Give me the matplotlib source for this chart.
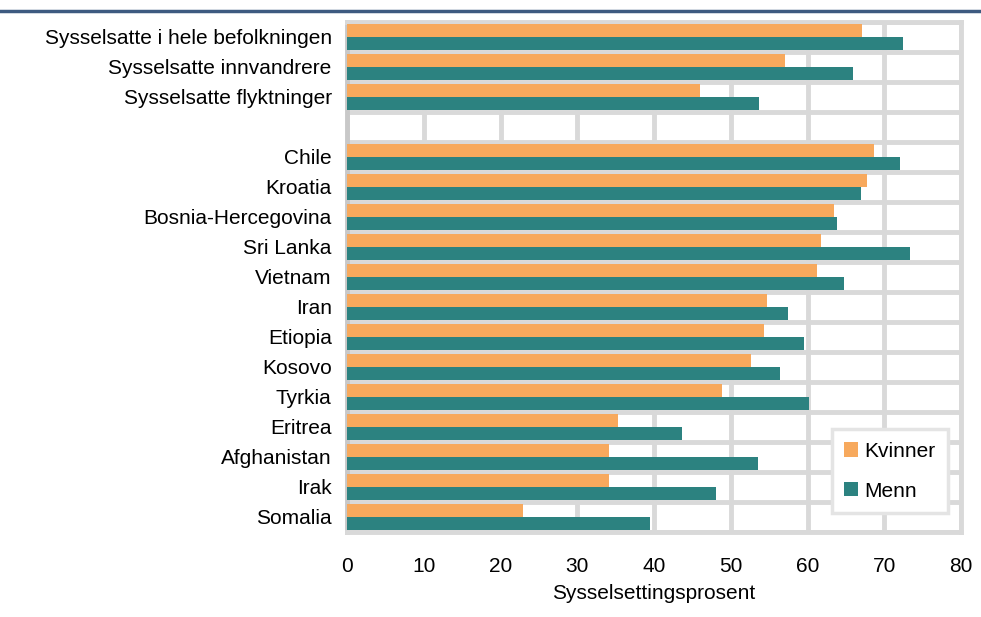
import matplotlib.pyplot as plt
import numpy as np

plt.rcParams['font.family'] = ['Liberation Sans', 'DejaVu Sans']

# data
categories = ['Sysselsatte i hele befolkningen', 'Sysselsatte innvandrere',
              'Sysselsatte flyktninger', '',
              'Chile', 'Kroatia', 'Bosnia-Hercegovina', 'Sri Lanka', 'Vietnam',
              'Iran', 'Etiopia', 'Kosovo', 'Tyrkia', 'Eritrea', 'Afghanistan',
              'Irak', 'Somalia']
kvinner = [67.1, 57.1, 46.0, np.nan,
           68.7, 67.8, 63.4, 61.7, 61.2, 54.7, 54.3, 52.6, 48.8, 35.3, 34.1, 34.1, 22.9]
menn = [72.5, 65.9, 53.7, np.nan,
        72.1, 67.0, 63.9, 73.3, 64.7, 57.4, 59.6, 56.4, 60.2, 43.6, 53.5, 48.1, 39.5]
xticks = [0, 10, 20, 30, 40, 50, 60, 70, 80]

orange = '#f7a95d'
teal = '#2c8280'
grid_col = '#d9d9d9'
fs = 15

fig = plt.figure(figsize=(9.81, 6.17), dpi=100)
ax = fig.add_axes([347 / 981, 1 - 532 / 617, (961 - 347) / 981, (532 - 22) / 617])

y = np.arange(len(categories))
h = 0.43
ax.barh(y - h / 2, kvinner, height=h, color=orange, label='Kvinner', zorder=3)
ax.barh(y + h / 2, menn, height=h, color=teal, label='Menn', zorder=3)

ax.set_xlim(0, 80)
ax.set_ylim(len(categories) - 0.5, -0.5)
ax.set_xticks(xticks)
ax.set_yticks(y)
ax.set_yticklabels(categories, fontsize=fs)
ax.set_yticks(np.arange(len(categories) + 1) - 0.5, minor=True)
ax.tick_params(axis='x', labelsize=fs, length=0, pad=18)
ax.tick_params(axis='y', which='both', length=0, pad=11)

ax.grid(axis='x', color=grid_col, linewidth=3.5, zorder=0)
ax.grid(axis='y', which='minor', color=grid_col, linewidth=3.5, zorder=0)
for s in ax.spines.values():
    s.set_color(grid_col)
    s.set_linewidth(3.5)
ax.spines['left'].set_color('#c8c8c8')

ax.set_xlabel('Sysselsettingsprosent', fontsize=fs, labelpad=6)

leg = ax.legend(loc='lower right', bbox_to_anchor=(0.979, 0.037), borderaxespad=0,
                fontsize=fs, handlelength=0.67, handleheight=0.67, handletextpad=0.3,
                labelspacing=1.0, borderpad=0.6, fancybox=False, framealpha=1)
leg.get_frame().set_edgecolor('#e4e4e4')
leg.get_frame().set_linewidth(2.5)

# dark rule at the top of the figure
fig.add_artist(plt.Line2D([0, 1], [1 - 11 / 617, 1 - 11 / 617], color='#3d5a80',
                          linewidth=2.5, transform=fig.transFigure))

fig.savefig('out.png', dpi=100)
